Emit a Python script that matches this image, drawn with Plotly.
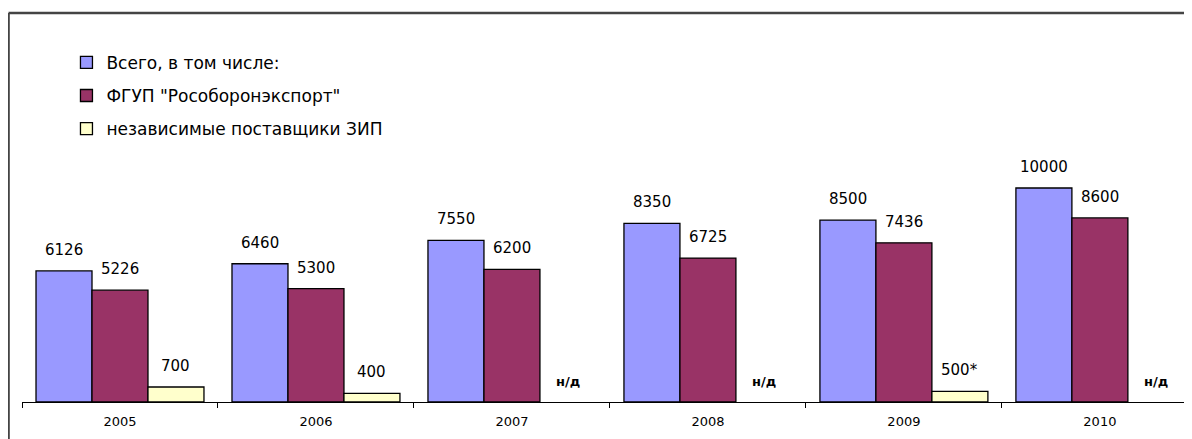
import plotly.graph_objects as go

years = ['2005', '2006', '2007', '2008', '2009', '2010']
total = [6126, 6460, 7550, 8350, 8500, 10000]
rosoboron = [5226, 5300, 6200, 6725, 7436, 8600]
independent = [700, 400, None, None, 500, None]
independent_labels = ['700', '400', 'н/д', 'н/д', '500*', 'н/д']

series_names = ['Всего, в том числе:', 'ФГУП "Рособоронэкспорт"', 'независимые поставщики ЗИП']
colors = ['#9999FF', '#993366', '#FFFFCC']

FONT = 'DejaVu Sans, Liberation Sans, Arial, sans-serif'
BARGAP = 0.143

fig = go.Figure()
for k, (name, vals, col) in enumerate(zip(series_names, [total, rosoboron, independent], colors)):
    fig.add_trace(go.Bar(
        x=years, y=vals, name=name, marker=dict(color=col, line=dict(color='black', width=1.3)),
        legendgroup=f'g{k}', hoverinfo='skip'))

# value labels
w = (1 - BARGAP) / 3
annotations = []
label_sets = [[str(v) for v in total], [str(v) for v in rosoboron], independent_labels]
value_sets = [total, rosoboron, independent]
for k in range(3):
    for i, year in enumerate(years):
        v = value_sets[k][i]
        txt = label_sets[k][i]
        is_nd = txt == 'н/д'
        annotations.append(dict(
            x=i + (k - 1) * w, y=v if v is not None else 0, xref='x', yref='y',
            text=f'<b>{txt}</b>' if is_nd else txt, showarrow=False, yanchor='middle', yshift=21,
            font=dict(family=FONT, size=13 if is_nd else 15, color='black'),
        ))

frame = dict(color='#444444', width=2.5)
fig.update_layout(
    width=1184, height=431,
    margin=dict(l=14, r=0, t=12, b=37),
    paper_bgcolor='white', plot_bgcolor='white',
    barmode='group', bargap=BARGAP, bargroupgap=0,
    font=dict(family=FONT, color='black'),
    xaxis=dict(type='category', range=[-0.5, 5.47], showline=True, linecolor='black', linewidth=1,
               ticks='outside', tickson='boundaries', ticklen=5, tickcolor='black',
               ticklabelstandoff=7,
               tickfont=dict(size=13, family=FONT), showgrid=False, zeroline=False),
    yaxis=dict(range=[0, 17850], visible=False, showgrid=False, zeroline=False),
    legend=dict(x=0.038, y=0.935, xanchor='left', yanchor='top', traceorder='grouped',
                tracegroupgap=8, font=dict(size=17, family=FONT), bgcolor='rgba(0,0,0,0)'),
    annotations=annotations,
    shapes=[
        dict(type='line', xref='paper', yref='paper', x0=-0.0115, x1=1.02, y0=1.0183, y1=1.0183,
             line=frame, layer='above'),
        dict(type='line', xref='paper', yref='paper', x0=-0.0115, x1=-0.0115, y0=-0.12, y1=1.0183,
             line=frame, layer='above'),
    ],
)

fig.write_html('out.html')
